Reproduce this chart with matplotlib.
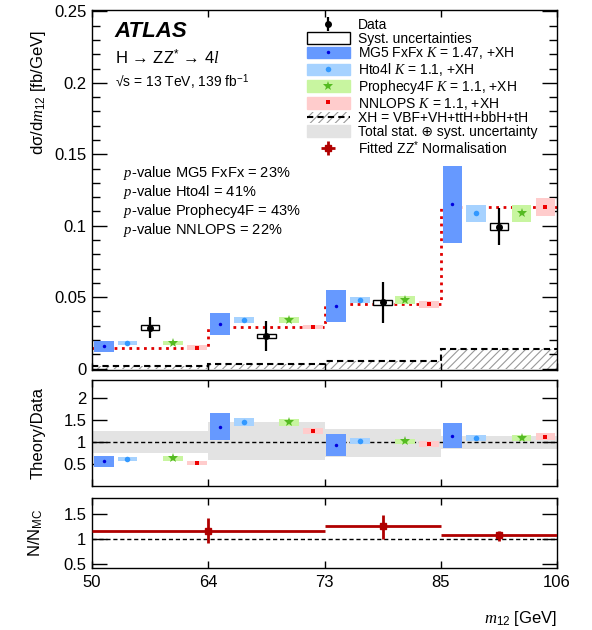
import numpy as np
import matplotlib
matplotlib.use('Agg')
import matplotlib.pyplot as plt
from matplotlib.patches import Patch
from matplotlib.lines import Line2D

plt.rcParams['font.family'] = ['Liberation Sans', 'DejaVu Sans']
plt.rcParams['mathtext.fontset'] = 'custom'
plt.rcParams['mathtext.rm'] = 'Liberation Sans'
plt.rcParams['mathtext.it'] = 'Liberation Serif:italic'
plt.rcParams['mathtext.bf'] = 'Liberation Sans:bold'
plt.rcParams['hatch.color'] = '#999999'
plt.rcParams['hatch.linewidth'] = 0.8

# m12 bins [GeV], plotted with equal width
bin_labels = ['50', '64', '73', '85', '106']
edges = np.arange(5)

# data: dsigma/dm12 [fb/GeV]
data = [0.0287, 0.0229, 0.0463, 0.0993]
data_err = [0.0074, 0.0103, 0.0146, 0.0130]
data_syst = [0.0015, 0.0015, 0.0019, 0.0025]

# predictions and their uncertainties
mg5 = [0.0156, 0.0310, 0.0439, 0.1150]
mg5_err = [0.0040, 0.0077, 0.0110, 0.0270]
hto4l = [0.0180, 0.0339, 0.0479, 0.1087]
hto4l_err = [0.0014, 0.0019, 0.0023, 0.0058]
prophecy = [0.0180, 0.0339, 0.0479, 0.1087]
prophecy_err = [0.0015, 0.0020, 0.0026, 0.0058]
nnlops = [0.0147, 0.0290, 0.0449, 0.1129]
nnlops_err = [0.0015, 0.0015, 0.0027, 0.0062]
xh = [0.0015, 0.0035, 0.0053, 0.0138]

# theory / data
r_mg5 = [0.56, 1.35, 0.94, 1.15]
r_mg5_err = [0.13, 0.31, 0.255, 0.28]
r_hto4l = [0.62, 1.46, 1.02, 1.09]
r_hto4l_err = [0.05, 0.09, 0.065, 0.07]
r_prophecy = [0.63, 1.45, 1.02, 1.09]
r_prophecy_err = [0.05, 0.09, 0.05, 0.07]
r_nnlops = [0.52, 1.26, 0.95, 1.13]
r_nnlops_err = [0.045, 0.07, 0.07, 0.077]
band_lo = [0.75, 0.59, 0.67, 0.84]
band_hi = [1.25, 1.46, 1.29, 1.14]

# fitted ZZ* normalisation
norm_x = [1.0, 2.5, 3.5]
norm_xerr = [1.0, 0.5, 0.5]
norm = [1.16, 1.25, 1.07]
norm_lo = [0.25, 0.25, 0.11]
norm_hi = [0.25, 0.22, 0.09]

c_mg5, c_mg5_dot = '#6699ff', '#0000dd'
c_hto, c_hto_dot = '#a6d2ff', '#3399ff'
c_pro, c_pro_dot = '#c8f5a0', '#55bb22'
c_nnl, c_nnl_dot = '#ffcccc', '#ee0000'
c_fit = '#b00000'

fig = plt.figure(figsize=(5.92, 6.3), dpi=100)
ax1 = fig.add_axes([0.1554, 0.4127, 0.7855, 0.5714])
ax2 = fig.add_axes([0.1554, 0.2286, 0.7855, 0.1682])
ax3 = fig.add_axes([0.1554, 0.0984, 0.7855, 0.1111])

w = 0.17
off = {'mg5': 0.10, 'hto': 0.305, 'data': 0.5, 'pro': 0.695, 'nnl': 0.9}
ib = np.arange(4)


def boxes(ax, pos, val, err, col, dotcol, marker, ms):
    val = np.array(val)
    err = np.array(err)
    ax.bar(ib + pos, 2*err, bottom=val - err, width=w, color=col, lw=0, zorder=3)
    ax.plot(ib + pos, val, ls='none', marker=marker, color=dotcol, ms=ms, mew=0, zorder=4)


# ---- main panel
ax1.stairs(xh, edges, fill=True, facecolor='none', edgecolor='#999999', hatch='////', lw=0, zorder=1)
ax1.stairs(xh, edges, baseline=None, color='k', ls=(0, (3, 2)), lw=1.5, zorder=2)
ax1.stairs(nnlops, edges, baseline=None, color='#e00000', ls=':', lw=2, zorder=2)

boxes(ax1, off['mg5'], mg5, mg5_err, c_mg5, c_mg5_dot, 'o', 2.5)
boxes(ax1, off['hto'], hto4l, hto4l_err, c_hto, c_hto_dot, 'o', 4)
boxes(ax1, off['pro'], prophecy, prophecy_err, c_pro, c_pro_dot, '*', 7)
boxes(ax1, off['nnl'], nnlops, nnlops_err, c_nnl, c_nnl_dot, 's', 3.5)

ax1.bar(ib + off['data'], 2*np.array(data_syst), bottom=np.array(data) - np.array(data_syst),
        width=0.16, facecolor='white', edgecolor='k', lw=1, zorder=5)
deb = ax1.errorbar(ib + off['data'], data, yerr=data_err, fmt='o', color='k', ms=4,
                   elinewidth=1.6, capsize=0, zorder=6)

ax1.set_ylim(-0.001, 0.251)
ax1.set_yticks([0, 0.05, 0.1, 0.15, 0.2, 0.25])
ax1.set_yticklabels(['0', '0.05', '0.1', '0.15', '0.2', '0.25'])
ax1.set_yticks(np.arange(0, 0.251, 0.01), minor=True)
ax1.set_ylabel('dσ/d$m_{12}$ [fb/GeV]', fontsize=12)
ax1.yaxis.set_label_coords(-0.095, 0.77)

ax1.text(0.049, 0.939, 'ATLAS', transform=ax1.transAxes, fontsize=16,
         fontweight='bold', fontstyle='italic', va='center')
ax1.text(0.049, 0.867, 'H → ZZ$^{*}$ → 4$l$', transform=ax1.transAxes, fontsize=12, va='center')
ax1.text(0.049, 0.800, '√s = 13 TeV, 139 fb$^{-1}$', transform=ax1.transAxes, fontsize=10, va='center')

pvals = ['$p$-value MG5 FxFx = 23%', '$p$-value Hto4l = 41%',
         '$p$-value Prophecy4F = 43%', '$p$-value NNLOPS = 22%']
for k, s in enumerate(pvals):
    ax1.text(0.067, 0.547 - 0.0527*k, s, transform=ax1.transAxes, fontsize=10.5, va='center')

# ---- theory / data
ax2.bar(ib + 0.5, np.array(band_hi) - np.array(band_lo), bottom=band_lo, width=1.0,
        color='#e3e3e3', lw=0, zorder=1)
ax2.axhline(1, color='k', ls=(0, (3, 2)), lw=1, zorder=2)
boxes(ax2, off['mg5'], r_mg5, r_mg5_err, c_mg5, c_mg5_dot, 'o', 2.5)
boxes(ax2, off['hto'], r_hto4l, r_hto4l_err, c_hto, c_hto_dot, 'o', 4)
boxes(ax2, off['pro'], r_prophecy, r_prophecy_err, c_pro, c_pro_dot, '*', 7)
boxes(ax2, off['nnl'], r_nnlops, r_nnlops_err, c_nnl, c_nnl_dot, 's', 3.5)
ax2.set_ylim(0, 2.42)
ax2.set_yticks([0.5, 1, 1.5, 2])
ax2.set_yticklabels(['0.5', '1', '1.5', '2'])
ax2.set_ylabel('Theory/Data', fontsize=12)
ax2.yaxis.set_label_coords(-0.1, 0.5)

# ---- fitted normalisation
ax3.axhline(1, color='k', ls=(0, (3, 2)), lw=1, zorder=1)
neb = ax3.errorbar(norm_x, norm, xerr=norm_xerr, yerr=[norm_lo, norm_hi], fmt='s',
                   color=c_fit, ms=5, elinewidth=2, capsize=0, zorder=3)
ax3.set_ylim(0.41, 1.81)
ax3.set_yticks([0.5, 1, 1.5])
ax3.set_yticklabels(['0.5', '1', '1.5'])
ax3.set_ylabel('N/N$_{\\mathrm{MC}}$', fontsize=12)
ax3.yaxis.set_label_coords(-0.1, 0.5)
ax3.set_xlabel('$m_{12}$ [GeV]', fontsize=12, loc='right', labelpad=14)

for ax in (ax1, ax2, ax3):
    ax.set_xlim(0, 4)
    ax.set_xticks(edges)
    ax.set_xticklabels(bin_labels if ax is ax3 else [])
    ax.tick_params(axis='y', which='major', direction='in', length=11, width=1,
                   left=True, right=True, labelsize=12, pad=4)
    ax.tick_params(axis='y', which='minor', direction='in', length=6, width=1,
                   left=True, right=True)
    ax.tick_params(axis='x', which='major', direction='in', length=5, width=1,
                   top=True, bottom=True, labelsize=12, pad=5)
    for sp in ax.spines.values():
        sp.set_linewidth(1)

# ---- legend
handles = [
    deb,
    Patch(facecolor='white', edgecolor='k', lw=1),
    (Patch(color=c_mg5), Line2D([], [], ls='none', marker='o', color=c_mg5_dot, ms=2.5, mew=0)),
    (Patch(color=c_hto), Line2D([], [], ls='none', marker='o', color=c_hto_dot, ms=4, mew=0)),
    (Patch(color=c_pro), Line2D([], [], ls='none', marker='*', color=c_pro_dot, ms=7, mew=0)),
    (Patch(color=c_nnl), Line2D([], [], ls='none', marker='s', color=c_nnl_dot, ms=3.5, mew=0)),
    (Patch(facecolor='none', edgecolor='#999999', hatch='////', lw=0),
     Line2D([], [], color='k', ls=(0, (3, 2)), lw=1.5)),
    Patch(color='#e3e3e3'),
    neb,
]
labels = ['Data', 'Syst. uncertainties',
          'MG5 FxFx $K$ = 1.47, +XH', 'Hto4l $K$ = 1.1, +XH',
          'Prophecy4F $K$ = 1.1, +XH', 'NNLOPS $K$ = 1.1, +XH',
          'XH = VBF+VH+ttH+bbH+tH', 'Total stat. ⊕ syst. uncertainty',
          'Fitted ZZ$^{*}$ Normalisation']
ax1.legend(handles, labels, loc='upper left', bbox_to_anchor=(0.462, 0.978),
           frameon=False, fontsize=10, handlelength=3.1, handleheight=0.9,
           handletextpad=0.55, labelspacing=-0.02, borderpad=0, borderaxespad=0)

fig.savefig('out.png', dpi=100)
